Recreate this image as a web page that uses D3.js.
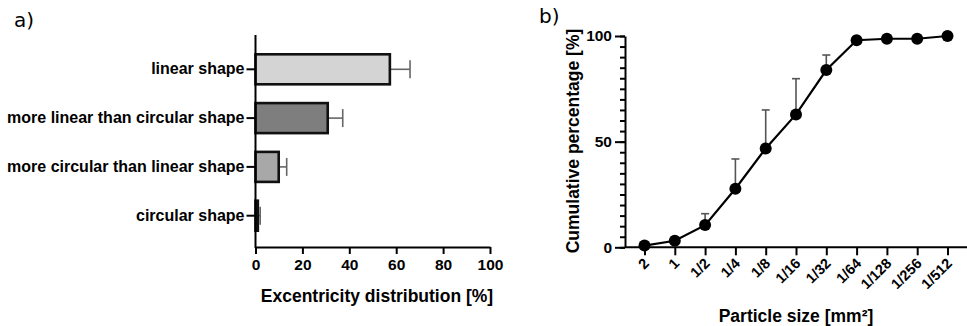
<!DOCTYPE html>
<html lang="en">
<head>
<meta charset="utf-8">
<title>Shape and particle size</title>
<script src="https://cdn.jsdelivr.net/npm/d3@7"></script>
<style>
  body { margin: 0; background: #fff; }
  svg { display: block; }
  .axis path, .axis line { stroke: #000; stroke-width: 2px; fill: none; }
  .axis text { font-family: "Liberation Sans", Arial, sans-serif; font-weight: bold; font-size: 15.5px; fill: #000; }
  .axis.cat text { font-size: 16px; }
  .axis.rot text { font-size: 14.5px; }
  .title { font-family: "Liberation Sans", Arial, sans-serif; font-weight: bold; font-size: 17.5px; }
  .panel { font-family: "DejaVu Sans", Verdana, sans-serif; font-size: 20px; }
</style>
</head>
<body>
<script>
// panel a) shape classes
var shapes    = ["linear shape", "more linear than circular shape", "more circular than linear shape", "circular shape"];
var shapeVals = [57.3, 30.8, 9.9, 1.0];
var shapeErr  = [8.6, 6.4, 3.4, 1.0];
var shapeFill = ["#d4d4d4", "#7e7e7e", "#a8a8a8", "#333333"];
var xTicksA   = [0, 20, 40, 60, 80, 100];

// panel b) cumulative particle size
var sizes    = ["2", "1", "1/2", "1/4", "1/8", "1/16", "1/32", "1/64", "1/128", "1/256", "1/512"];
var cumVals  = [0.8, 3.1, 10.5, 27.7, 46.8, 62.9, 83.9, 98.0, 98.7, 98.7, 100];
var cumErr   = [0.5, 1.5, 5.4, 14.1, 18.2, 16.9, 7.1, 0, 0, 0, 0];
var yTicksB  = [0, 50, 100];

var W = 967, H = 326;
var svg = d3.select("body").append("svg").attr("width", W).attr("height", H);

svg.append("text").attr("class", "panel").attr("x", 14).attr("y", 27).text("a)");
svg.append("text").attr("class", "panel").attr("x", 539).attr("y", 23).text("b)");

// ---------- a) ----------
var xA = d3.scaleLinear().domain([0, 100]).range([255.5, 490]);
var yA = d3.scaleBand().domain(shapes).range([36, 249]).paddingInner(0.385).paddingOuter(0.375);

var gA = svg.append("g");

gA.selectAll("line.err").data(shapes).enter().append("line")
  .attr("class", "err")
  .attr("x1", function(d, i){ return xA(shapeVals[i]); })
  .attr("x2", function(d, i){ return xA(shapeVals[i] + shapeErr[i]); })
  .attr("y1", function(d){ return yA(d) + yA.bandwidth() / 2; })
  .attr("y2", function(d){ return yA(d) + yA.bandwidth() / 2; })
  .attr("stroke", "#666").attr("stroke-width", 1.6);

gA.selectAll("line.cap").data(shapes).enter().append("line")
  .attr("class", "cap")
  .attr("x1", function(d, i){ return xA(shapeVals[i] + shapeErr[i]); })
  .attr("x2", function(d, i){ return xA(shapeVals[i] + shapeErr[i]); })
  .attr("y1", function(d){ return yA(d) + yA.bandwidth() / 2 - 9; })
  .attr("y2", function(d){ return yA(d) + yA.bandwidth() / 2 + 9; })
  .attr("stroke", "#666").attr("stroke-width", 1.6);

gA.selectAll("rect").data(shapes).enter().append("rect")
  .attr("x", xA(0))
  .attr("y", function(d){ return yA(d); })
  .attr("width", function(d, i){ return xA(shapeVals[i]) - xA(0); })
  .attr("height", yA.bandwidth())
  .attr("fill", function(d, i){ return shapeFill[i]; })
  .attr("stroke", "#111").attr("stroke-width", 2.6);

gA.append("g").attr("class", "axis")
  .attr("transform", "translate(0,247)")
  .call(d3.axisBottom(xA).tickValues(xTicksA).tickSize(7).tickSizeOuter(0).tickPadding(5));

gA.append("g").attr("class", "axis cat")
  .attr("transform", "translate(255.5,0)")
  .call(d3.axisLeft(yA).tickSize(9).tickSizeOuter(0).tickPadding(2))
  .call(function(g){ g.select(".domain").attr("d", "M0,35V248"); });

gA.append("text").attr("class", "title")
  .attr("x", 377).attr("y", 302).attr("text-anchor", "middle")
  .text("Excentricity distribution [%]");

// ---------- b) ----------
var xB = d3.scalePoint().domain(sizes).range([644.5, 947.5]);
var yB = d3.scaleLinear().domain([0, 100]).range([247.3, 36]);

var gB = svg.append("g");

gB.append("g").attr("class", "axis")
  .attr("transform", "translate(625,0)")
  .call(d3.axisLeft(yB).tickValues(d3.range(0, 101, 5)).tickSize(5).tickSizeOuter(0).tickFormat(""))
  .call(function(g){ g.selectAll("line").attr("stroke-width", 1.4); g.select(".domain").attr("stroke-width", 2); });

gB.append("g").attr("class", "axis")
  .attr("transform", "translate(625,0)")
  .call(d3.axisLeft(yB).tickValues(yTicksB).tickSize(10).tickSizeOuter(0).tickPadding(3))
  .call(function(g){ g.select(".domain").remove(); });

var xAxisB = gB.append("g").attr("class", "axis rot")
  .attr("transform", "translate(0,247.3)")
  .call(d3.axisBottom(xB).tickSize(8).tickSizeOuter(0));
xAxisB.select(".domain").attr("d", "M625,0H967");
xAxisB.selectAll("text")
  .attr("text-anchor", "end")
  .attr("x", 0).attr("y", 0).attr("dy", 0)
  .attr("transform", "translate(5,17) rotate(-45)");

var ok = sizes.filter(function(d, i){ return cumErr[i] > 0; });
gB.selectAll("line.err").data(ok).enter().append("line")
  .attr("x1", function(d){ return xB(d); })
  .attr("x2", function(d){ return xB(d); })
  .attr("y1", function(d){ return yB(cumVals[sizes.indexOf(d)]); })
  .attr("y2", function(d){ var i = sizes.indexOf(d); return yB(cumVals[i] + cumErr[i]); })
  .attr("stroke", "#555").attr("stroke-width", 1.6);
gB.selectAll("line.cap").data(ok).enter().append("line")
  .attr("x1", function(d){ return xB(d) - 4; })
  .attr("x2", function(d){ return xB(d) + 4; })
  .attr("y1", function(d){ var i = sizes.indexOf(d); return yB(cumVals[i] + cumErr[i]); })
  .attr("y2", function(d){ var i = sizes.indexOf(d); return yB(cumVals[i] + cumErr[i]); })
  .attr("stroke", "#555").attr("stroke-width", 1.6);

var line = d3.line()
  .x(function(d, i){ return xB(sizes[i]); })
  .y(function(d){ return yB(d); });

gB.append("path").datum(cumVals)
  .attr("d", line).attr("fill", "none").attr("stroke", "#000").attr("stroke-width", 2.2);

gB.selectAll("circle").data(cumVals).enter().append("circle")
  .attr("cx", function(d, i){ return xB(sizes[i]); })
  .attr("cy", function(d){ return yB(d); })
  .attr("r", 6).attr("fill", "#000");

gB.append("text").attr("class", "title")
  .attr("x", 796).attr("y", 322).attr("text-anchor", "middle")
  .text("Particle size [mm²]");

gB.append("text").attr("class", "title")
  .attr("transform", "translate(579,141) rotate(-90)").attr("text-anchor", "middle")
  .text("Cumulative percentage [%]");
</script>
</body>
</html>
